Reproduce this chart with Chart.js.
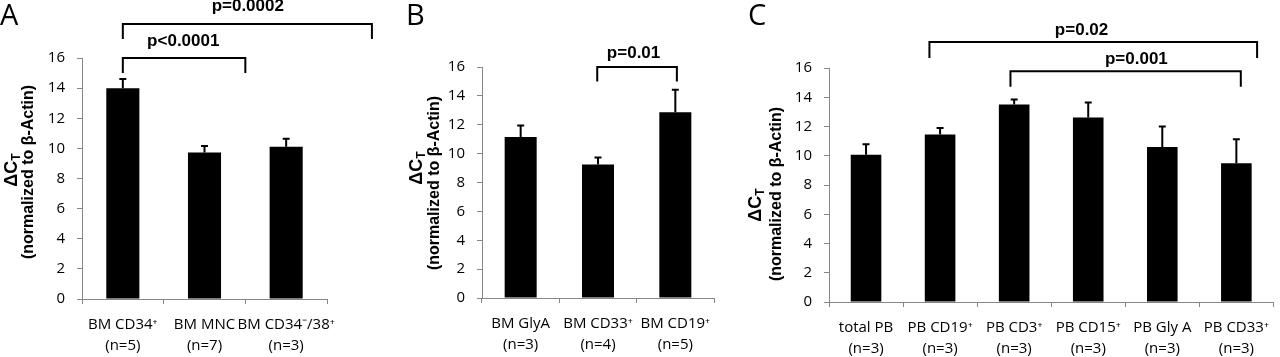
<!DOCTYPE html>
<html><head><meta charset="utf-8">
<script src="https://cdn.jsdelivr.net/npm/chart.js@4"></script>
<style>
body{margin:0;background:#fff;width:1280px;height:357px;overflow:hidden;position:relative}
canvas{position:absolute;top:0}
</style></head><body>
<canvas id="cA" width="400" height="357" style="left:0px"></canvas>
<canvas id="cB" width="340" height="357" style="left:400px"></canvas>
<canvas id="cC" width="540" height="357" style="left:740px"></canvas>
<script>
// ---- data ----
const catsA = [['BM CD34\u207A','(n=5)'],['BM MNC','(n=7)'],['BM CD34\u207B/38\u207A','(n=3)']];
const valsA = [14.0, 9.72, 10.11];
const errA  = [0.6, 0.44, 0.53];

const catsB = [['BM GlyA','(n=3)'],['BM CD33\u207A','(n=4)'],['BM CD19\u207A','(n=5)']];
const valsB = [11.16, 9.25, 12.87];
const errB  = [0.79, 0.49, 1.56];

const catsC = [['total PB','(n=3)'],['PB CD19\u207A','(n=3)'],['PB CD3\u207A','(n=3)'],['PB CD15\u207A','(n=3)'],['PB Gly A','(n=3)'],['PB CD33\u207A','(n=3)']];
const valsC = [10.07, 11.46, 13.5, 12.62, 10.6, 9.48];
const errC  = [0.71, 0.43, 0.35, 1.02, 1.4, 1.64];

const yTickMin = 0, yTickMax = 16, yTickStep = 2;

// significance brackets (category index space / value space)
const sigA = [
  {from:0, to:3.05, y:18.26, drop:1.0, label:'p=0.0002', lx:1.53, ly:19.4},
  {from:0, to:1.5, y:16.0, drop:1.0, label:'p<0.0001', lx:0.74, ly:17.1}
];
const sigB = [
  {from:0.99, to:2.02, y:16.0, drop:1.0, label:'p=0.01', lx:1.46, ly:16.94}
];
const sigC = [
  {from:0.856, to:5.28, y:17.78, drop:1.09, label:'p=0.02', lx:2.91, ly:18.57},
  {from:1.95, to:5.06, y:15.78, drop:1.07, label:'p=0.001', lx:3.65, ly:16.6}
];

function makeChart(id, cats, vals, errs, sig, lay){
  const W = lay.w, H = 357;
  const deco = {
    id:'deco'+id,
    afterDatasetsDraw(chart){
      const ctx = chart.ctx, xs = chart.scales.x, ys = chart.scales.y;
      const meta = chart.getDatasetMeta(0);
      ctx.save();
      ctx.strokeStyle = '#000'; ctx.lineWidth = 2;
      meta.data.forEach((bar,i)=>{
        const x = bar.x;
        const y0 = ys.getPixelForValue(vals[i]);
        const y1 = ys.getPixelForValue(vals[i]+errs[i]);
        ctx.beginPath();
        ctx.moveTo(x, y0); ctx.lineTo(x, y1);
        ctx.moveTo(x-3.5, y1); ctx.lineTo(x+3.5, y1);
        ctx.stroke();
      });
      // brackets
      ctx.lineWidth = 2;
      sig.forEach(s=>{
        const xa = xs.getPixelForValue(s.from), xb = xs.getPixelForValue(s.to);
        const yt = ys.getPixelForValue(s.y), yd = ys.getPixelForValue(s.y - s.drop);
        ctx.beginPath();
        ctx.moveTo(xa, yd); ctx.lineTo(xa, yt); ctx.lineTo(xb, yt); ctx.lineTo(xb, yd);
        ctx.stroke();
        ctx.fillStyle = '#000';
        ctx.font = 'bold 17px "Liberation Sans", Arial, sans-serif';
        ctx.textAlign = 'center'; ctx.textBaseline = 'middle';
        ctx.fillText(s.label, xs.getPixelForValue(s.lx), ys.getPixelForValue(s.ly));
      });
      // panel letter
      ctx.fillStyle = '#000';
      ctx.font = '29px "Open Sans", sans-serif';
      ctx.textAlign = 'left'; ctx.textBaseline = 'alphabetic';
      ctx.fillText(lay.letter, lay.lx, 25);
      // y titles
      ctx.save();
      ctx.translate(lay.t1x, lay.t1y);
      ctx.rotate(-Math.PI/2);
      ctx.textBaseline = 'middle'; ctx.textAlign = 'left';
      ctx.font = 'bold 18px "Liberation Sans", Arial, sans-serif';
      const w1 = ctx.measureText('\u0394C').width;
      ctx.font = 'bold 12px "Liberation Sans", Arial, sans-serif';
      const w2 = ctx.measureText('T').width;
      const st = -(w1+w2)/2;
      ctx.font = 'bold 18px "Liberation Sans", Arial, sans-serif';
      ctx.fillText('\u0394C', st, 0);
      ctx.font = 'bold 12px "Liberation Sans", Arial, sans-serif';
      ctx.fillText('T', st + w1, 5);
      ctx.restore();
      ctx.save();
      ctx.translate(lay.t2x, lay.t2y);
      ctx.rotate(-Math.PI/2);
      ctx.textBaseline = 'middle'; ctx.textAlign = 'center';
      ctx.font = 'bold 16px "Liberation Sans", Arial, sans-serif';
      ctx.fillText('(normalized to \u03B2-Actin)', 0, 0);
      ctx.restore();
      ctx.restore();
    }
  };
  return new Chart(document.getElementById(id), {
    type:'bar',
    data:{labels:cats, datasets:[{data:vals, backgroundColor:'#000', borderWidth:0, barPercentage:1, categoryPercentage:lay.cp}]},
    options:{
      responsive:false, animation:false, devicePixelRatio:1,
      layout:{padding:{left:0, top:lay.top, right:W-lay.right, bottom:0}},
      plugins:{legend:{display:false}, tooltip:{enabled:false}},
      scales:{
        x:{
          grid:{display:true, drawOnChartArea:false, drawTicks:true, tickLength:5, color:'#868686', offset:true},
          border:{display:true, color:'#868686', width:1},
          ticks:{color:'#000', font:{family:'"Open Sans", sans-serif', size:15, lineHeight:1.35}, padding:11, maxRotation:0, autoSkip:false},
          afterFit(s){ s.height = H - lay.bottom; }
        },
        y:{
          min:yTickMin, max:yTickMax,
          grid:{display:true, drawOnChartArea:false, drawTicks:true, tickLength:5, color:'#868686'},
          border:{display:true, color:'#868686', width:1},
          ticks:{stepSize:yTickStep, color:'#000', font:{family:'"Open Sans", sans-serif', size:15}, padding:12},
          afterFit(s){ s.width = lay.left; }
        }
      }
    },
    plugins:[deco]
  });
}

makeChart('cA', catsA, valsA, errA, sigA, {w:400, left:82, right:327, top:58, bottom:299, cp:0.405, letter:'A', lx:0, t1x:12, t1y:170, t2x:29, t2y:172});
makeChart('cB', catsB, valsB, errB, sigB, {w:340, left:82, right:314, top:67, bottom:298, cp:0.414, letter:'B', lx:6, t1x:17, t1y:168, t2x:35, t2y:183});
makeChart('cC', catsC, valsC, errC, sigC, {w:540, left:89, right:539, top:68, bottom:302, cp:0.413, letter:'C', lx:8, t1x:16, t1y:205, t2x:37, t2y:194});
</script>
</body></html>
